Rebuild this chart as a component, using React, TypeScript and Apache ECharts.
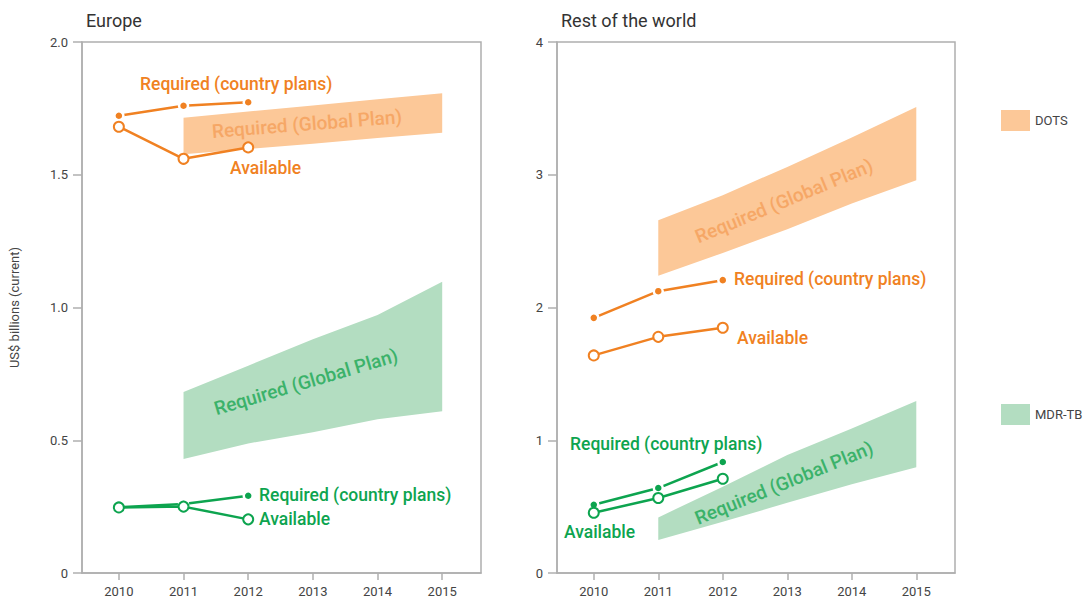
import React, { useEffect, useRef } from "react";
import * as echarts from "echarts";

// ---- data ----
const years = [2010, 2011, 2012, 2013, 2014, 2015];
const planYears = [2011, 2012, 2013, 2014, 2015];
const countryYears = [2010, 2011, 2012];

// Europe (US$ billions)
const euDotsRequired = [1.722, 1.76, 1.773];
const euDotsAvailable = [1.681, 1.56, 1.603];
const euDotsPlanLow = [1.577, 1.597, 1.617, 1.638, 1.658];
const euDotsPlanHigh = [1.715, 1.738, 1.761, 1.784, 1.807];
const euMdrRequired = [0.248, 0.26, 0.291];
const euMdrAvailable = [0.247, 0.25, 0.202];
const euMdrPlanLow = [0.429, 0.488, 0.53, 0.579, 0.609];
const euMdrPlanHigh = [0.682, 0.781, 0.88, 0.972, 1.097];

// Rest of the world (US$ billions)
const rwDotsRequired = [1.922, 2.123, 2.206];
const rwDotsAvailable = [1.639, 1.779, 1.847];
const rwDotsPlanLow = [2.239, 2.411, 2.59, 2.783, 2.959];
const rwDotsPlanHigh = [2.657, 2.846, 3.059, 3.28, 3.511];
const rwMdrRequired = [0.514, 0.64, 0.836];
const rwMdrAvailable = [0.454, 0.565, 0.71];
const rwMdrPlanLow = [0.248, 0.386, 0.529, 0.668, 0.796];
const rwMdrPlanHigh = [0.419, 0.65, 0.888, 1.089, 1.295];

const euTicks = [0, 0.5, 1.0, 1.5, 2.0];
const rwTicks = [0, 1, 2, 3, 4];

const ORANGE = "#F08122";
const ORANGE_BAND = "#FCC898";
const ORANGE_BAND_TEXT = "#F6A766";
const GREEN = "#0DA44F";
const GREEN_BAND = "#B3DDC1";
const GREEN_BAND_TEXT = "#3BB26A";
const AXIS = "#AFAFAF";
const TEXT = "#444444";
const FONT = "Roboto, 'Noto Sans', sans-serif";

const pairs = (xs: number[], ys: number[]) => xs.map((x, i) => [x, ys[i]]);

function band(name: string, idx: number, low: number[], high: number[], color: string) {
  const upper = pairs(planYears, high);
  const lower = pairs(planYears, low);
  return {
    type: "custom",
    name,
    xAxisIndex: idx,
    yAxisIndex: idx,
    itemStyle: { color },
    data: upper,
    encode: { x: 0, y: 1 },
    silent: true,
    z: 1,
    renderItem: (params: any, api: any) => {
      if (params.dataIndex !== 0) return null;
      const pts = upper.map((p) => api.coord(p)).concat(lower.slice().reverse().map((p) => api.coord(p)));
      return {
        type: "polygon",
        shape: { points: pts },
        style: { fill: color, stroke: "none" },
      };
    },
  };
}

function reqLine(idx: number, ys: number[], color: string) {
  return {
    type: "line",
    name: "req",
    xAxisIndex: idx,
    yAxisIndex: idx,
    data: pairs(countryYears, ys),
    symbol: "circle",
    symbolSize: 9,
    showAllSymbol: true,
    lineStyle: { color, width: 2.5 },
    itemStyle: { color, borderColor: "#ffffff", borderWidth: 2.5 },
    z: 3,
  };
}

function availLine(idx: number, ys: number[], color: string) {
  return {
    type: "line",
    name: "avail",
    xAxisIndex: idx,
    yAxisIndex: idx,
    data: pairs(countryYears, ys),
    symbol: "circle",
    symbolSize: 10,
    showAllSymbol: true,
    lineStyle: { color, width: 2.5 },
    itemStyle: { color: "#ffffff", borderColor: color, borderWidth: 2 },
    z: 4,
  };
}

function xAxis(idx: number) {
  return {
    type: "value",
    gridIndex: idx,
    min: 2009.43,
    max: 2015.6,
    axisLine: { show: true, lineStyle: { color: AXIS, width: 1.5 } },
    axisTick: { show: true, customValues: years, length: 7, lineStyle: { color: AXIS, width: 1.5 } },
    axisLabel: {
      customValues: years,
      formatter: (v: number) => String(Math.round(v)),
      color: TEXT,
      fontFamily: FONT,
      fontSize: 13,
      margin: 12,
    },
    splitLine: { show: false },
  };
}

function yAxis(idx: number, ticks: number[], fmt: (v: number) => string, name?: string) {
  return {
    type: "value",
    gridIndex: idx,
    min: ticks[0],
    max: ticks[ticks.length - 1],
    interval: ticks[1] - ticks[0],
    name: name || "",
    nameLocation: "middle",
    nameGap: 61,
    nameTextStyle: { color: TEXT, fontFamily: FONT, fontSize: 13 },
    axisLine: { show: true, lineStyle: { color: AXIS, width: 1.5 } },
    axisTick: { show: true, length: 9, lineStyle: { color: AXIS, width: 1.5 } },
    axisLabel: { formatter: fmt, color: TEXT, fontFamily: FONT, fontSize: 13, margin: 14 },
    splitLine: { show: false },
  };
}

function label(text: string, x: number, y: number, color: string, opts: any = {}) {
  return {
    type: "text",
    x,
    y,
    rotation: opts.rotation || 0,
    z: 10,
    style: {
      text,
      fill: color,
      font: `${opts.weight || 500} ${opts.size || 17.5}px ${FONT}`,
      align: opts.align || "left",
      verticalAlign: "middle",
    },
  };
}

export default function App() {
  const ref = useRef<HTMLDivElement>(null);
  useEffect(() => {
    if (!ref.current) return;
    const chart = echarts.init(ref.current, undefined, { renderer: "svg" });
    const deg = Math.PI / 180;
    const bandOpts = (rot: number) => ({ align: "center", size: 19, weight: 500, rotation: rot * deg });
    chart.setOption({
      animation: false,
      backgroundColor: "#ffffff",
      grid: [
        { left: 82, top: 42, width: 399, height: 531, show: true, borderColor: AXIS, borderWidth: 1.5, backgroundColor: "transparent" },
        { left: 557, top: 42, width: 398, height: 531, show: true, borderColor: AXIS, borderWidth: 1.5, backgroundColor: "transparent" },
      ],
      title: [
        { text: "Europe", left: 81, top: 6, textStyle: { color: "#333", fontFamily: FONT, fontSize: 18, fontWeight: "normal" } },
        { text: "Rest of the world", left: 556, top: 6, textStyle: { color: "#333", fontFamily: FONT, fontSize: 18, fontWeight: "normal" } },
      ],
      legend: [
        {
          left: 996,
          top: 105,
          itemWidth: 29,
          itemHeight: 21,
          itemGap: 10,
          selectedMode: false,
          textStyle: { color: TEXT, fontFamily: FONT, fontSize: 13 },
          data: [{ name: "DOTS", icon: "rect", itemStyle: { color: ORANGE_BAND } }],
        },
        {
          left: 996,
          top: 399,
          itemWidth: 29,
          itemHeight: 21,
          itemGap: 10,
          selectedMode: false,
          textStyle: { color: TEXT, fontFamily: FONT, fontSize: 13 },
          data: [{ name: "MDR-TB", icon: "rect", itemStyle: { color: GREEN_BAND } }],
        },
      ],
      xAxis: [xAxis(0), xAxis(1)],
      yAxis: [
        yAxis(0, euTicks, (v: number) => (v === 0 ? "0" : v.toFixed(1)), "US$ billions (current)"),
        yAxis(1, rwTicks, (v: number) => String(v)),
      ],
      series: [
        band("DOTS", 0, euDotsPlanLow, euDotsPlanHigh, ORANGE_BAND),
        band("MDR-TB", 0, euMdrPlanLow, euMdrPlanHigh, GREEN_BAND),
        band("DOTS", 1, rwDotsPlanLow, rwDotsPlanHigh, ORANGE_BAND),
        band("MDR-TB", 1, rwMdrPlanLow, rwMdrPlanHigh, GREEN_BAND),
        reqLine(0, euDotsRequired, ORANGE),
        availLine(0, euDotsAvailable, ORANGE),
        reqLine(0, euMdrRequired, GREEN),
        availLine(0, euMdrAvailable, GREEN),
        reqLine(1, rwDotsRequired, ORANGE),
        availLine(1, rwDotsAvailable, ORANGE),
        reqLine(1, rwMdrRequired, GREEN),
        availLine(1, rwMdrAvailable, GREEN),
      ],
      graphic: [
        label("Required (country plans)", 140, 84, ORANGE),
        label("Available", 230, 168, ORANGE),
        label("Required (Global Plan)", 307, 124, ORANGE_BAND_TEXT, bandOpts(4.5)),
        label("Required (country plans)", 259, 495, GREEN),
        label("Available", 259, 519, GREEN),
        label("Required (Global Plan)", 306, 382, GREEN_BAND_TEXT, bandOpts(16.5)),
        label("Required (country plans)", 734, 279, ORANGE),
        label("Available", 737, 338, ORANGE),
        label("Required (Global Plan)", 784, 201, ORANGE_BAND_TEXT, bandOpts(22.5)),
        label("Required (country plans)", 570, 444, GREEN),
        label("Available", 564, 532, GREEN),
        label("Required (Global Plan)", 784, 483, GREEN_BAND_TEXT, bandOpts(22.2)),
      ],
    });
    return () => chart.dispose();
  }, []);
  return <div ref={ref} style={{ position: "fixed", left: 0, top: 0, width: 1089, height: 606 }} />;
}
